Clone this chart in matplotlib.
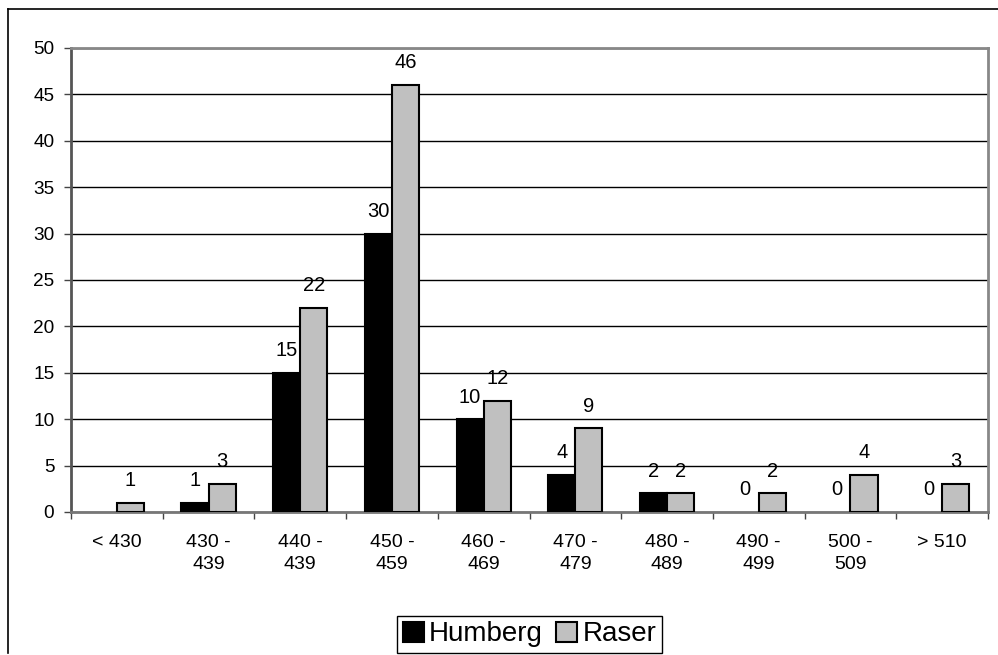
import numpy as np
import matplotlib.pyplot as plt
from matplotlib.lines import Line2D
from matplotlib.patches import Patch

plt.rcParams['font.family'] = ['Liberation Sans', 'DejaVu Sans']

# data
categories = ['< 430', '430 -\n439', '440 -\n439', '450 -\n459', '460 -\n469',
              '470 -\n479', '480 -\n489', '490 -\n499', '500 -\n509', '> 510']
humberg = [None, 1, 15, 30, 10, 4, 2, 0, 0, 0]
raser = [1, 3, 22, 46, 12, 9, 2, 2, 4, 3]

W, H = 998, 655
fig = plt.figure(figsize=(W / 100, H / 100), dpi=100)
ax = fig.add_axes([71 / W, 1 - 512 / H, (988 - 71) / W, (512 - 48) / H])

x = np.arange(len(categories))
bw = 0.295
h_vals = [v if v is not None else 0 for v in humberg]
# zero-height bars get no outline (Excel draws nothing for them)
h_lw = [1.5 if v else 0 for v in h_vals]
r_lw = [1.5 if v else 0 for v in raser]
ax.bar(x - bw / 2, h_vals, bw, color='black', edgecolor='black', linewidth=h_lw, zorder=3)
ax.bar(x + bw / 2, raser, bw, color='#C0C0C0', edgecolor='black', linewidth=r_lw, zorder=3)

# data labels
for i in range(len(categories)):
    if humberg[i] is not None:
        ax.annotate(str(humberg[i]), (x[i] - bw / 2, humberg[i]), xytext=(0, 12),
                    textcoords='offset points', ha='center', va='baseline', fontsize=14.5)
    ax.annotate(str(raser[i]), (x[i] + bw / 2, raser[i]), xytext=(0, 12),
                textcoords='offset points', ha='center', va='baseline', fontsize=14.5)

ax.set_xlim(-0.5, len(categories) - 0.5)
ax.set_ylim(0, 50)
ax.set_yticks(range(0, 51, 5))
ax.yaxis.grid(True, color='black', linewidth=1)
ax.set_axisbelow(True)

ax.set_xticks(np.arange(-0.5, len(categories), 1.0))
ax.set_xticklabels([])
ax.set_xticks(x, minor=True)
ax.set_xticklabels(categories, minor=True, fontsize=14, linespacing=1.4)
ax.tick_params(axis='x', which='minor', length=0, pad=16)
ax.tick_params(axis='x', which='major', length=5, width=1, color='#444444', direction='out')
ax.tick_params(axis='y', length=5, width=1, color='#444444', labelsize=13.7, pad=7)

ax.spines['left'].set_color('#555555')
ax.spines['left'].set_linewidth(2)
ax.spines['bottom'].set_color('#777777')
ax.spines['bottom'].set_linewidth(2)
for s in ['top', 'right']:
    ax.spines[s].set_color('#888888')
    ax.spines[s].set_linewidth(2)

handles = [Patch(facecolor='black', edgecolor='black', linewidth=1.5),
           Patch(facecolor='#C0C0C0', edgecolor='black', linewidth=1.5)]
leg = fig.legend(handles, ['Humberg', 'Raser'], loc='lower center',
                 bbox_to_anchor=(529.5 / W, 2 / H), ncol=2, fontsize=20,
                 handlelength=0.75, handleheight=0.75, handletextpad=0.18,
                 columnspacing=0.5, borderpad=0.2, borderaxespad=0,
                 fancybox=False, framealpha=1)
leg.get_frame().set_edgecolor('black')
leg.get_frame().set_linewidth(1)

# outer chart border (left and top visible)
fig.add_artist(Line2D([7.5 / W, 7.5 / W], [1 - 653 / H, 1 - 9 / H], color='black', linewidth=1.2))
fig.add_artist(Line2D([7.5 / W, 1.0], [1 - 9 / H, 1 - 9 / H], color='black', linewidth=1.2))

fig.savefig('out.png', dpi=100)
